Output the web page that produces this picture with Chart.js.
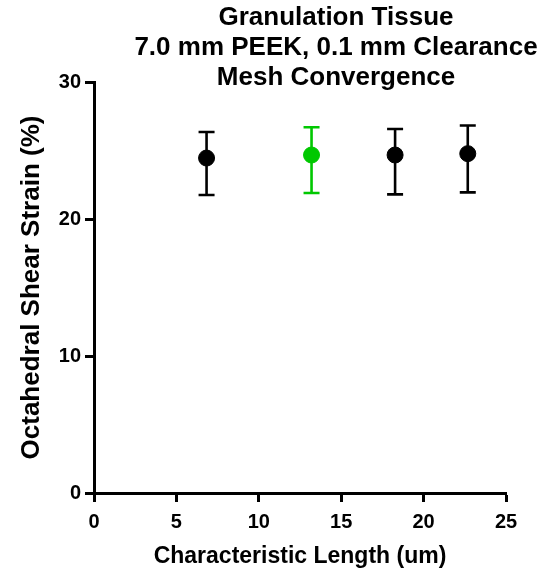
<!DOCTYPE html>
<html>
<head>
<meta charset="utf-8">
<script src="https://cdn.jsdelivr.net/npm/chart.js@4"></script>
<style>
  html, body { margin: 0; padding: 0; background: #fff; }
  #wrap { width: 545px; height: 571px; position: relative; }
</style>
</head>
<body>
<div id="wrap"><canvas id="chart"></canvas></div>
<script>
// Mesh convergence — granulation tissue, 7.0 mm PEEK
const titleLines = ["Granulation Tissue", "7.0 mm PEEK, 0.1 mm Clearance", "Mesh Convergence"];
const charLength = [6.83, 13.2, 18.27, 22.68];
const shearStrain = [24.45, 24.67, 24.67, 24.77];
const errHigh = [26.35, 26.7, 26.57, 26.83];
const errLow = [21.75, 21.9, 21.8, 21.94];
const pointColors = ["#000000", "#00c800", "#000000", "#000000"];
const xTicks = [0, 5, 10, 15, 20, 25];
const yTicks = [0, 10, 20, 30];

const FONT = "Arial, 'Liberation Sans', sans-serif";

// vertical error bars with caps, drawn through the scales
const errorBars = {
  id: "errorBars",
  beforeDatasetsDraw(chart) {
    const { ctx, scales: { x, y } } = chart;
    ctx.save();
    ctx.lineWidth = 2.6;
    charLength.forEach((v, i) => {
      const px = x.getPixelForValue(v);
      const top = y.getPixelForValue(errHigh[i]);
      const bot = y.getPixelForValue(errLow[i]);
      ctx.strokeStyle = pointColors[i];
      ctx.beginPath();
      ctx.moveTo(px, top); ctx.lineTo(px, bot);
      ctx.moveTo(px - 8, top); ctx.lineTo(px + 8, top);
      ctx.moveTo(px - 8, bot); ctx.lineTo(px + 8, bot);
      ctx.stroke();
    });
    ctx.restore();
  }
};

// centred multi-line title, offset like the original figure
const titleBlock = {
  id: "titleBlock",
  afterDraw(chart) {
    const { ctx, chartArea } = chart;
    ctx.save();
    ctx.fillStyle = "#000";
    ctx.font = "bold 26px " + FONT;
    ctx.textAlign = "center";
    ctx.textBaseline = "middle";
    const cx = (chartArea.left + chartArea.right) / 2 + 36;
    titleLines.forEach((t, i) => ctx.fillText(t, cx, 18 + i * 30));
    ctx.restore();
  }
};

new Chart(document.getElementById("chart"), {
  type: "scatter",
  data: {
    datasets: [{
      data: charLength.map((v, i) => ({ x: v, y: shearStrain[i] })),
      backgroundColor: pointColors,
      borderColor: pointColors,
      pointRadius: 8,
      pointHoverRadius: 8
    }]
  },
  options: {
    responsive: true,
    maintainAspectRatio: false,
    animation: false,
    layout: { padding: { top: 82, right: 39, bottom: 0, left: 0 } },
    plugins: { legend: { display: false }, title: { display: false }, tooltip: { enabled: false } },
    scales: {
      x: {
        type: "linear", min: 0, max: 25,
        afterBuildTicks: s => { s.ticks = xTicks.map(v => ({ value: v })); },
        afterFit: s => { s.height = 78; },
        border: { color: "#000", width: 3 },
        grid: { drawOnChartArea: false, tickLength: 9, tickColor: "#000", tickWidth: 3 },
        ticks: { color: "#000", font: { family: FONT, size: 20, weight: "bold" }, padding: 8 },
        title: { display: true, text: "Characteristic Length (um)", color: "#000",
                 font: { family: FONT, size: 23, weight: "bold" }, padding: { top: 5, bottom: 1 } }
      },
      y: {
        type: "linear", min: 0, max: 30,
        afterBuildTicks: s => { s.ticks = yTicks.map(v => ({ value: v })); },
        afterFit: s => { s.width = 94; },
        border: { color: "#000", width: 3 },
        grid: { drawOnChartArea: false, tickLength: 9, tickColor: "#000", tickWidth: 3 },
        ticks: { color: "#000", font: { family: FONT, size: 20, weight: "bold" }, padding: 4 },
        title: { display: true, text: "Octahedral Shear Strain (%)", color: "#000",
                 font: { family: FONT, size: 26, weight: "bold" }, padding: { top: 16, bottom: 0 } }
      }
    }
  },
  plugins: [errorBars, titleBlock]
});
</script>
</body>
</html>
